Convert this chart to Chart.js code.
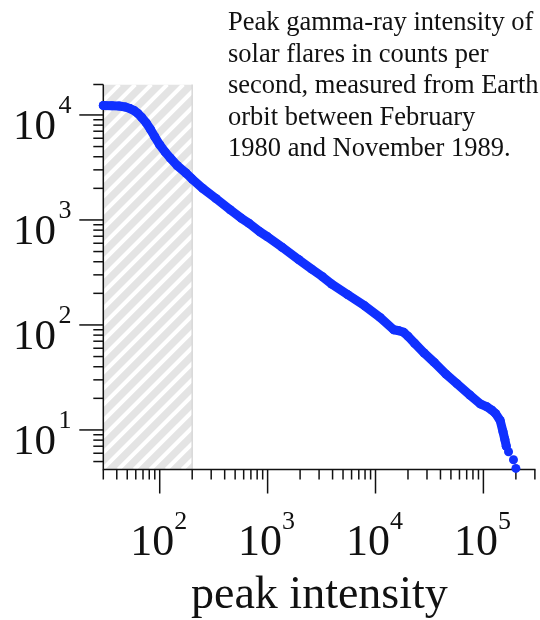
<!DOCTYPE html>
<html>
<head>
<meta charset="utf-8">
<script src="https://cdn.jsdelivr.net/npm/chart.js@4.4.1/dist/chart.umd.min.js"></script>
<style>
  html, body { margin: 0; padding: 0; background: #fff; }
</style>
</head>
<body>
<canvas id="flare-chart" width="540" height="620"></canvas>
<script>
// peak intensity (counts/s) and number of flares at or above it
const intensity = [30, 36, 42, 48, 53, 58, 63, 68, 75, 82, 90, 100, 112, 125, 145, 175, 200, 250, 332, 450,
  570, 671, 850, 1000, 1360, 1940, 2565, 3200, 3920, 5500, 7940, 11000, 14750, 16500, 18250, 20000, 23000,
  28250, 35000, 45000, 57100, 75000, 93600, 108000, 120000, 130000, 143000, 152000, 158000, 163000,
  171000, 190000, 200000];
const flareCount = [12300, 12250, 12150, 11900, 11500, 11000, 10300, 9500, 8400, 7300, 6200, 5200, 4450, 3900,
  3300, 2800, 2450, 2000, 1600, 1250, 1040, 930, 770, 690, 550, 420, 340, 290, 245, 195, 152, 118, 90, 88, 85,
  78, 67, 54, 44, 34, 27.5, 21.5, 17.7, 16.6, 15.4, 14.3, 12.3, 9.6, 8.1, 7.0, 6.2, 5.2, 4.3];

const xRange = [30, 304000];
const yRange = [4.2, 19500];
const shadedBand = [30, 200];
const xTickExponents = [2, 3, 4, 5];
const yTickExponents = [1, 2, 3, 4];
const xDecades = [1, 2, 3, 4, 5];
const yDecades = [0, 1, 2, 3, 4];
const minorMultiples = [2, 3, 4, 5, 6, 7, 8, 9];
const xTitle = "peak intensity";
const noteLines = [
  "Peak gamma-ray intensity of",
  "solar flares in counts per",
  "second, measured from Earth",
  "orbit between February",
  "1980 and November 1989."
];

const SERIF = '"Liberation Serif", "Times New Roman", serif';
const INK = "#111";
const BLUE = "#1030ff";
const tailFrom = 163000; // past here the dots stand apart

function seg(ctx, x1, y1, x2, y2) {
  ctx.beginPath();
  ctx.moveTo(x1, y1);
  ctx.lineTo(x2, y2);
  ctx.stroke();
}

const hatchPlugin = {
  id: "hatchBand",
  beforeDatasetsDraw(chart) {
    const { ctx, chartArea: a, scales: { x } } = chart;
    const x0 = x.getPixelForValue(shadedBand[0]);
    const x1 = x.getPixelForValue(shadedBand[1]);
    const h = a.bottom - a.top;
    ctx.save();
    ctx.beginPath();
    ctx.rect(x0, a.top, x1 - x0, h);
    ctx.clip();
    ctx.fillStyle = "#e4e4e4";
    ctx.fillRect(x0, a.top, x1 - x0, h);
    ctx.strokeStyle = "#fff";
    ctx.lineWidth = 4;
    for (let k = x0 - h; k < x1 + 16; k += 16) {
      seg(ctx, k, a.bottom, k + h, a.top);
    }
    ctx.restore();
    ctx.save();
    ctx.strokeStyle = "#d8d8d8";
    ctx.lineWidth = 1.5;
    seg(ctx, x1, a.top, x1, a.bottom);
    ctx.restore();
  },
};

const axesPlugin = {
  id: "serifAxes",
  beforeDatasetsDraw(chart) {
    const { ctx, chartArea: a, scales: { x, y } } = chart;
    ctx.save();
    ctx.strokeStyle = INK;
    ctx.lineWidth = 1.5;

    ctx.beginPath();
    ctx.moveTo(a.left, a.top);
    ctx.lineTo(a.left, a.bottom);
    ctx.lineTo(a.right, a.bottom);
    ctx.stroke();
    // cap at the top of the y axis
    seg(ctx, a.left - 10, a.top, a.left, a.top);

    xDecades.forEach((d) => {
      [1, ...minorMultiples].forEach((m) => {
        const v = m * Math.pow(10, d);
        if (v < xRange[0] * 0.999 || v > xRange[1]) return;
        const px = x.getPixelForValue(v);
        seg(ctx, px, a.bottom, px, a.bottom + (m === 1 ? 24 : 10));
      });
    });
    yDecades.forEach((d) => {
      [1, ...minorMultiples].forEach((m) => {
        const v = m * Math.pow(10, d);
        if (v < yRange[0] || v > yRange[1]) return;
        const py = y.getPixelForValue(v);
        seg(ctx, a.left, py, a.left - (m === 1 ? 24 : 10), py);
      });
    });

    // tick labels: 10 with a raised exponent
    ctx.fillStyle = INK;
    ctx.textBaseline = "alphabetic";
    ctx.textAlign = "left";
    xTickExponents.forEach((e) => {
      const px = x.getPixelForValue(Math.pow(10, e));
      ctx.font = "44px " + SERIF;
      const w1 = ctx.measureText("10").width;
      ctx.font = "26px " + SERIF;
      const w2 = ctx.measureText(String(e)).width;
      const start = px - (w1 + w2) / 2 - 1;
      ctx.font = "44px " + SERIF;
      ctx.fillText("10", start, 555);
      ctx.font = "26px " + SERIF;
      ctx.fillText(String(e), start + w1, 529);
    });
    yTickExponents.forEach((e) => {
      const py = y.getPixelForValue(Math.pow(10, e));
      ctx.font = "43px " + SERIF;
      ctx.textAlign = "right";
      ctx.fillText("10", 56, py + 24.5);
      ctx.font = "26px " + SERIF;
      ctx.textAlign = "left";
      ctx.fillText(String(e), 58.5, py - 2);
    });

    ctx.font = "46px " + SERIF;
    ctx.textAlign = "center";
    ctx.fillText(xTitle, (a.left + a.right) / 2, 608);

    ctx.font = "26.5px " + SERIF;
    ctx.textAlign = "left";
    noteLines.forEach((line, i) => {
      ctx.fillText(line, 228, 30 + i * 31.5);
    });
    ctx.restore();
  },
};

function renderChart() {
  const ctx = document.getElementById("flare-chart");
  const points = intensity.map((v, i) => ({ x: v, y: flareCount[i] }));

  new Chart(ctx, {
    type: "scatter",
    data: {
      datasets: [
        {
          data: points,
          showLine: true,
          borderColor: BLUE,
          backgroundColor: BLUE,
          borderWidth: 9,
          borderCapStyle: "round",
          borderJoinStyle: "round",
          pointRadius: 4.5,
          pointHoverRadius: 4.5,
          pointBorderWidth: 0,
          tension: 0,
          clip: false,
          segment: {
            borderColor: (c) => (intensity[c.p0DataIndex] >= tailFrom ? "rgba(0,0,0,0)" : undefined),
          },
        },
      ],
    },
    options: {
      responsive: false,
      animation: false,
      events: [],
      layout: {
        padding: { left: 103.3, top: 84.5, right: 0, bottom: 150.5 },
      },
      plugins: {
        legend: { display: false },
        tooltip: { enabled: false },
      },
      scales: {
        x: { type: "logarithmic", min: xRange[0], max: xRange[1], display: false },
        y: { type: "logarithmic", min: yRange[0], max: yRange[1], display: false },
      },
    },
    plugins: [hatchPlugin, axesPlugin],
  });
}

renderChart();
</script>
</body>
</html>
